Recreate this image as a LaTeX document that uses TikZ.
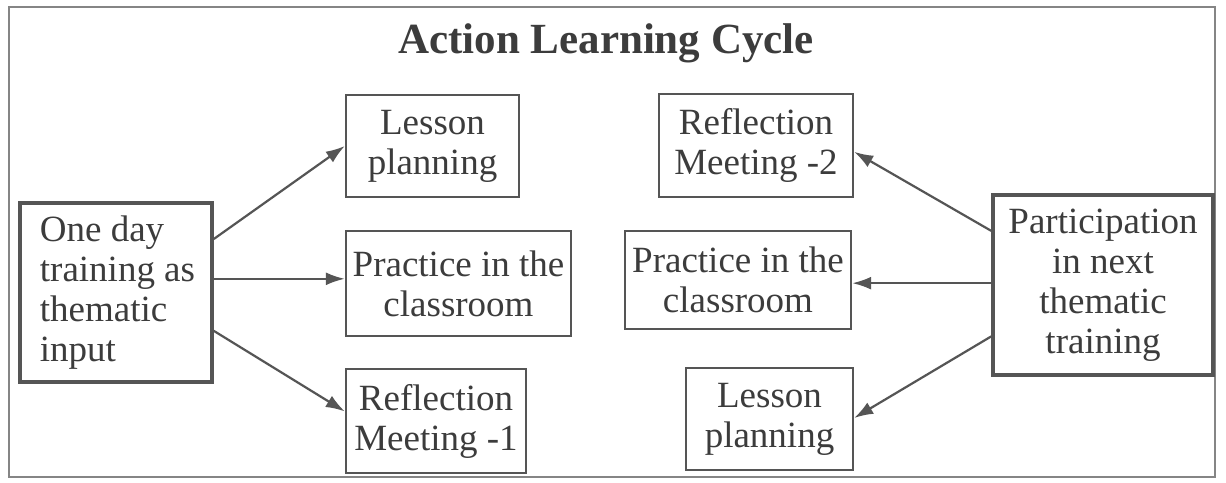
\documentclass[tikz,border=0pt]{standalone}
\usepackage{fontspec}
\setmainfont{Liberation Serif}
\usetikzlibrary{arrows.meta,calc}
\definecolor{txt}{HTML}{3C3C3C}
\definecolor{edge}{HTML}{555555}
\definecolor{frame}{HTML}{858585}
\tikzset{
  box/.style={draw=edge, line width=2.4pt, rectangle, inner sep=0pt, text=txt,
    font=\fontsize{37}{40}\selectfont, align=center},
  bigbox/.style={box, line width=3.6pt},
  arr/.style={draw=edge, line width=2.2pt, -{Latex[length=19pt,width=13pt]}}
}
\begin{document}
\begin{tikzpicture}[x=1pt,y=-1pt]
\useasboundingbox (0,0) rectangle (1226,482);
\fill[white] (0,0) rectangle (1226,482);
\draw[frame, line width=2pt] (9,7) rectangle (1215,477);

\node[anchor=base, text=txt, font=\fontsize{43}{46}\selectfont\bfseries] (title) at (606,53) {Action Learning Cycle};

\node[bigbox, minimum width=192pt, minimum height=179pt, align=left] (L) at (116,292.5)
  {\hspace*{3pt}One day\\\hspace*{3pt}training as\\\hspace*{3pt}thematic\\\hspace*{3pt}input};
\node[box, minimum width=173pt, minimum height=102pt] (LP1) at (432.5,146) {Lesson\\planning};
\node[box, minimum width=225pt, minimum height=105pt] (P1) at (458.5,283.5) {Practice in the\\classroom};
\node[box, minimum width=180pt, minimum height=104pt] (R1) at (436,421) {Reflection\\Meeting -1};

\node[box, minimum width=194pt, minimum height=103pt] (R2) at (756,145.5) {Reflection\\Meeting -2};
\node[box, minimum width=226pt, minimum height=98pt] (P2) at (738,280) {Practice in the\\classroom};
\node[box, minimum width=167pt, minimum height=102pt] (LP2) at (769.5,419) {Lesson\\planning};
\node[bigbox, minimum width=220pt, minimum height=180pt] (Pa) at (1103,285)
  {Participation\\in next\\thematic\\training};

\draw[arr] ($(L.north east)!0.207!(L.south east)$) -- (LP1.west);
\draw[arr] ($(L.north east)!0.425!(L.south east)$) coordinate (a1) -- (a1 -| P1.west);
\draw[arr] ($(L.north east)!0.71!(L.south east)$) -- ($(R1.north west)!0.41!(R1.south west)$);

\draw[arr] ($(Pa.north west)!0.205!(Pa.south west)$) -- ($(R2.north east)!0.56!(R2.south east)$);
\draw[arr] ($(Pa.north west)!0.49!(Pa.south west)$) coordinate (a2) -- (a2 -| P2.east);
\draw[arr] ($(Pa.north west)!0.78!(Pa.south west)$) -- ($(LP2.north east)!0.49!(LP2.south east)$);
\end{tikzpicture}
\end{document}
